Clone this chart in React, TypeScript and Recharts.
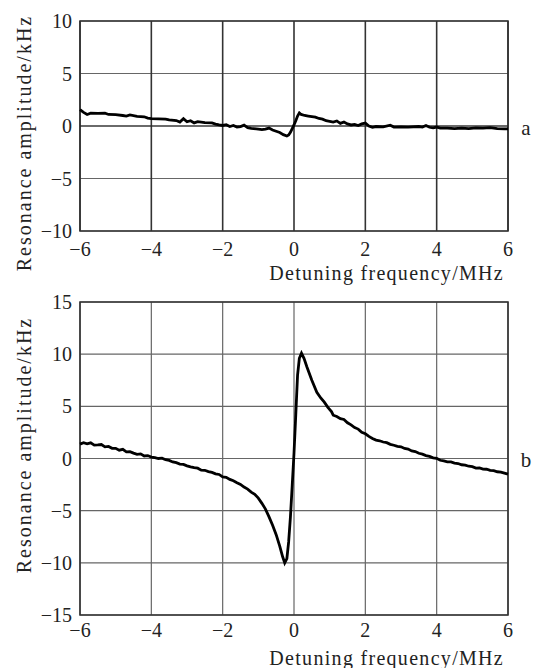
import React from 'react';
import { LineChart, Line, XAxis, YAxis, CartesianGrid, ReferenceArea, ReferenceLine, Customized } from 'recharts';

const SERIF = '"Liberation Serif", "Times New Roman", Times, serif';

const xTicks = [-6, -4, -2, 0, 2, 4, 6];
const yTicksA = [-10, -5, 0, 5, 10];
const yTicksB = [-15, -10, -5, 0, 5, 10, 15];

const xLabel = 'Detuning frequency/MHz';
const yLabel = 'Resonance amplitude/kHz';

// panel a: weak signal
const freqA = [
  -6.0, -5.9, -5.8, -5.7, -5.5, -5.3, -5.2, -5.0, -4.8, -4.7, -4.6, -4.4, -4.2, -4.1, -4.0,
  -3.8, -3.6, -3.5, -3.3, -3.2, -3.1, -3.0, -2.9, -2.8, -2.7, -2.5, -2.3, -2.2, -2.1, -2.0,
  -1.9, -1.8, -1.7, -1.6, -1.5, -1.4, -1.3, -1.2, -1.0, -0.9, -0.8, -0.7, -0.6, -0.5, -0.4,
  -0.3, -0.2, -0.15, -0.1, -0.05, 0.0, 0.05, 0.1, 0.15, 0.2, 0.3, 0.4, 0.5, 0.6, 0.7,
  0.8, 0.9, 1.0, 1.1, 1.2, 1.3, 1.4, 1.5, 1.6, 1.7, 1.8, 1.9, 2.0, 2.1, 2.2,
  2.3, 2.5, 2.7, 2.8, 3.0, 3.2, 3.5, 3.6, 3.7, 3.8, 3.9, 4.0, 4.1, 4.3, 4.5,
  4.7, 4.9, 5.1, 5.3, 5.5, 5.7, 5.9, 6.0,
];
const ampA = [
  1.55, 1.3, 1.1, 1.22, 1.2, 1.22, 1.1, 1.08, 1.0, 0.95, 1.05, 0.92, 0.88, 0.75, 0.7,
  0.68, 0.66, 0.58, 0.52, 0.38, 0.7, 0.4, 0.5, 0.3, 0.42, 0.32, 0.3, 0.18, 0.1, 0.05,
  0.12, -0.05, 0.05, -0.1, -0.05, 0.08, -0.15, -0.22, -0.3, -0.35, -0.3, -0.2, -0.38, -0.5, -0.62,
  -0.82, -0.95, -0.85, -0.6, -0.25, 0.1, 0.5, 0.95, 1.25, 1.1, 1.0, 0.95, 0.9, 0.85, 0.72,
  0.65, 0.5, 0.45, 0.38, 0.48, 0.25, 0.38, 0.2, 0.1, 0.15, 0.05, 0.2, 0.28, 0.0, -0.12,
  -0.05, -0.08, 0.08, -0.1, -0.08, -0.1, -0.05, -0.1, 0.05, -0.12, -0.18, -0.1, -0.2, -0.2, -0.25,
  -0.2, -0.25, -0.18, -0.2, -0.15, -0.25, -0.28, -0.28,
];

// panel b: strong dispersive resonance
const freqB = [
  -6.0, -5.9, -5.8, -5.7, -5.6, -5.5, -5.4, -5.3, -5.2, -5.1, -5.0, -4.9, -4.8, -4.7, -4.6,
  -4.5, -4.4, -4.3, -4.2, -4.1, -4.0, -3.9, -3.8, -3.7, -3.6, -3.5, -3.4, -3.3, -3.2, -3.1,
  -3.0, -2.9, -2.8, -2.7, -2.6, -2.5, -2.4, -2.3, -2.2, -2.1, -2.0, -1.9, -1.8, -1.7, -1.6,
  -1.5, -1.4, -1.3, -1.2, -1.1, -1.0, -0.9, -0.8, -0.7, -0.6, -0.5, -0.4, -0.32, -0.26, -0.2,
  -0.15, -0.1, -0.05, 0.0, 0.05, 0.1, 0.15, 0.21, 0.28, 0.36, 0.5, 0.64, 0.75, 0.85, 0.95,
  1.05, 1.1, 1.2, 1.3, 1.4, 1.5, 1.6, 1.7, 1.8, 1.9, 2.0, 2.1, 2.2, 2.3, 2.4,
  2.5, 2.6, 2.7, 2.8, 2.9, 3.0, 3.1, 3.2, 3.3, 3.4, 3.5, 3.6, 3.7, 3.8, 3.9,
  4.0, 4.1, 4.2, 4.3, 4.4, 4.5, 4.6, 4.7, 4.8, 4.9, 5.0, 5.1, 5.2, 5.3, 5.4,
  5.5, 5.6, 5.7, 5.8, 5.9, 6.0,
];
const ampB = [
  1.38, 1.52, 1.4, 1.5, 1.28, 1.3, 1.34, 1.12, 1.16, 0.98, 0.98, 0.8, 0.88, 0.64, 0.66,
  0.52, 0.4, 0.44, 0.24, 0.28, 0.13, 0.08, 0.0, 0.03, -0.12, -0.18, -0.33, -0.4, -0.53, -0.56,
  -0.7, -0.8, -0.88, -0.93, -1.12, -1.13, -1.25, -1.33, -1.47, -1.53, -1.77, -1.8, -2.0, -2.13, -2.32,
  -2.48, -2.74, -2.93, -3.22, -3.43, -3.8, -4.3, -4.85, -5.6, -6.4, -7.3, -8.4, -9.4, -10.0, -9.6,
  -8.0, -5.6, -2.6, 0.5, 4.2, 8.0, 9.6, 10.1, 9.6, 8.8, 7.5, 6.35, 5.8, 5.4, 4.9,
  4.5, 4.15, 4.02, 3.82, 3.74, 3.42, 3.22, 2.97, 2.82, 2.52, 2.37, 2.12, 1.92, 1.76, 1.7,
  1.58, 1.52, 1.36, 1.27, 1.16, 1.12, 0.96, 0.9, 0.73, 0.67, 0.5, 0.42, 0.28, 0.2, 0.06,
  0.02, -0.17, -0.23, -0.32, -0.33, -0.44, -0.48, -0.6, -0.63, -0.74, -0.78, -0.92, -0.9, -1.02, -1.03,
  -1.14, -1.16, -1.27, -1.3, -1.4, -1.5,
];

const dataA = freqA.map((f, i) => ({ f, v: ampA[i] }));
const dataB = freqB.map((f, i) => ({ f, v: ampB[i] }));

const minus = (v: number) => String(v).replace('-', '\u2212');

const tickStyle = { fontFamily: SERIF, fontSize: 20, fill: '#222' };

interface PanelProps {
  data: { f: number; v: number }[];
  yTicks: number[];
  name: string;
  height: number;
  top: number;
  xAxisHeight: number;
  xTickMargin: number;
  yLabelY: number;
  xLabelY: number;
  nameY: number;
  darkVertical?: boolean;
}

const Panel: React.FC<PanelProps> = ({
  data, yTicks, name, height, top, xAxisHeight, xTickMargin, yLabelY, xLabelY, nameY, darkVertical,
}) => {
  const yMin = yTicks[0];
  const yMax = yTicks[yTicks.length - 1];
  return (
    <LineChart width={534} height={height} data={data} margin={{ top, right: 26, bottom: 0, left: 0 }}>
      <CartesianGrid vertical={false} stroke="#666" strokeWidth={1.2} />
      <CartesianGrid horizontal={false} stroke={darkVertical ? '#333' : '#666'} strokeWidth={darkVertical ? 1.6 : 1.2} />
      {darkVertical && <ReferenceLine y={0} stroke="#222" strokeWidth={1.2} />}
      <ReferenceArea x1={-6} x2={6} y1={yMin} y2={yMax} fill="none" stroke="#333" strokeWidth={1.6} />
      <XAxis
        type="number"
        dataKey="f"
        domain={[-6, 6]}
        ticks={xTicks}
        height={xAxisHeight}
        axisLine={false}
        tickLine={false}
        tickMargin={xTickMargin}
        tick={tickStyle}
        tickFormatter={minus}
        interval={0}
      />
      <YAxis
        type="number"
        domain={[yMin, yMax]}
        ticks={yTicks}
        width={80}
        axisLine={false}
        tickLine={false}
        tick={tickStyle}
        tickFormatter={minus}
        interval={0}
      />
      <Line
        type="linear"
        dataKey="v"
        stroke="#000"
        strokeWidth={2.8}
        dot={false}
        isAnimationActive={false}
      />
      <Customized
        component={() => (
          <g fontFamily={SERIF} fill="#222">
            <text
              x={31}
              y={yLabelY}
              fontSize={20}
              letterSpacing={2}
              textAnchor="middle"
              transform={`rotate(-90, 31, ${yLabelY})`}
            >
              {yLabel}
            </text>
            <text x={504} y={xLabelY} fontSize={20} letterSpacing={1.3} textAnchor="end">
              {xLabel}
            </text>
            <text x={526} y={nameY} fontSize={21} textAnchor="middle">
              {name}
            </text>
          </g>
        )}
      />
    </LineChart>
  );
};

export default function App() {
  return (
    <div
      style={{
        position: 'absolute', left: 0, top: 0, width: 534, height: 668,
        background: '#fff', fontFamily: SERIF,
      }}
    >
      <div style={{ position: 'absolute', left: 0, top: 0 }}>
        <Panel
          data={dataA}
          yTicks={yTicksA}
          name="a"
          height={290}
          top={21}
          xAxisHeight={59}
          xTickMargin={5}
          yLabelY={143}
          xLabelY={280}
          nameY={135}
          darkVertical
        />
      </div>
      <div style={{ position: 'absolute', left: 0, top: 290 }}>
        <Panel
          data={dataB}
          yTicks={yTicksB}
          name="b"
          height={378}
          top={12}
          xAxisHeight={53}
          xTickMargin={2}
          yLabelY={155}
          xLabelY={375}
          nameY={177}
        />
      </div>
    </div>
  );
}
